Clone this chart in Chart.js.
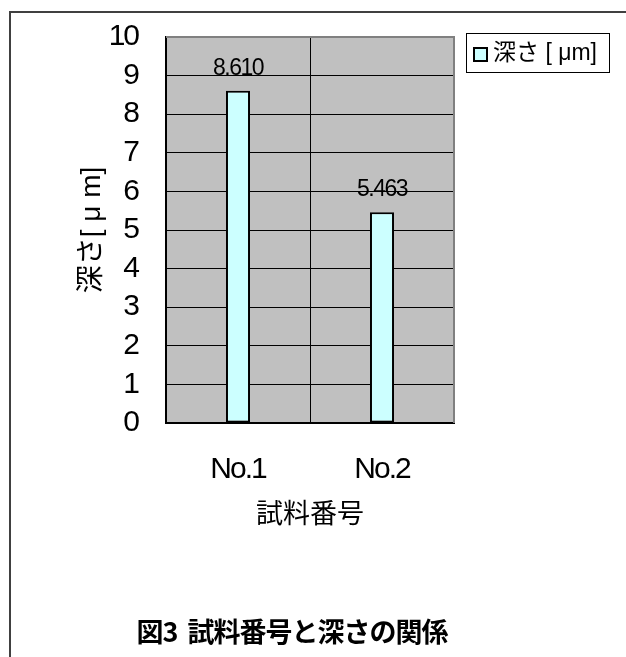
<!DOCTYPE html>
<html>
<head>
<meta charset="utf-8">
<script src="https://cdn.jsdelivr.net/npm/chart.js@4"></script>
<style>
  body { margin: 0; background: #fff; }
  #wrap { width: 626px; height: 657px; }
</style>
</head>
<body>
<div id="wrap"><canvas id="chart" width="626" height="657"></canvas></div>
<script>
const categories = ['No.1', 'No.2'];
const depthValues = [8.610, 5.463];
const seriesLabel = '深さ [ μm]';
const yTicks = [0, 1, 2, 3, 4, 5, 6, 7, 8, 9, 10];
const xTitle = '試料番号';
const yTitle = '深さ[ μ m]';
const chartTitle = '図3  試料番号と深さの関係';

const LATIN = '"Liberation Sans", "Noto Sans CJK JP", sans-serif';
const CJK = '"Noto Sans CJK JP", "Liberation Sans", sans-serif';

// frame, plot background, value labels, legend box and caption
const excelLook = {
  id: 'excelLook',
  beforeDraw(chart) {
    const { ctx, chartArea } = chart;
    ctx.letterSpacing = '0px';
    ctx.save();
    ctx.fillStyle = '#c0c0c0';
    ctx.fillRect(chartArea.left, chartArea.top, chartArea.right - chartArea.left, chartArea.bottom - chartArea.top);
    ctx.strokeStyle = '#404040';
    ctx.lineWidth = 2;
    ctx.beginPath();
    ctx.moveTo(10, 657);
    ctx.lineTo(10, 12);
    ctx.lineTo(626, 12);
    ctx.stroke();
    ctx.restore();
  },
  beforeDatasetsDraw(chart) {
    // narrow numerals like the original
    chart.ctx.letterSpacing = '-2px';
  },
  afterDatasetsDraw(chart) {
    const { ctx } = chart;
    const meta = chart.getDatasetMeta(0);
    ctx.save();
    ctx.letterSpacing = '-1.5px';
    ctx.font = '23px ' + LATIN;
    ctx.fillStyle = '#000';
    ctx.textAlign = 'center';
    ctx.textBaseline = 'alphabetic';
    meta.data.forEach((bar, i) => {
      ctx.fillText(chart.data.datasets[0].data[i].toFixed(3), bar.x, bar.y - 16);
    });
    ctx.restore();
  },
  afterDraw(chart) {
    const { ctx, chartArea } = chart;
    const ds = chart.data.datasets[0];
    ctx.letterSpacing = '0px';
    ctx.save();

    // plot area top/right edges
    ctx.strokeStyle = '#808080';
    ctx.lineWidth = 2;
    ctx.beginPath();
    ctx.moveTo(chartArea.left, chartArea.top);
    ctx.lineTo(chartArea.right, chartArea.top);
    ctx.lineTo(chartArea.right, chartArea.bottom);
    ctx.stroke();

    // legend
    ctx.fillStyle = '#fff';
    ctx.fillRect(466, 33, 144, 40);
    ctx.strokeStyle = '#000';
    ctx.lineWidth = 1;
    ctx.strokeRect(466.5, 33.5, 143, 39);
    ctx.fillStyle = ds.backgroundColor;
    ctx.fillRect(474, 48, 13, 13);
    ctx.lineWidth = 2;
    ctx.strokeRect(474, 48, 13, 13);
    ctx.fillStyle = '#000';
    ctx.font = '23px ' + LATIN;
    ctx.textAlign = 'left';
    ctx.textBaseline = 'middle';
    ctx.fillText(ds.label, 493, 54);

    // caption
    ctx.font = 'bold 27px ' + CJK;
    ctx.textAlign = 'center';
    ctx.letterSpacing = '-1px';
    ctx.fillText(chartTitle, 292, 632);
    ctx.restore();
    ctx.letterSpacing = '0px';
  }
};

new Chart(document.getElementById('chart'), {
  type: 'bar',
  data: {
    labels: categories,
    datasets: [{
      label: seriesLabel,
      data: depthValues,
      backgroundColor: '#ccffff',
      borderColor: '#000',
      borderWidth: 2,
      borderSkipped: false,
      barPercentage: 0.167,
      categoryPercentage: 1.0
    }]
  },
  options: {
    responsive: false,
    animation: false,
    devicePixelRatio: 1,
    layout: { padding: { left: 10, top: 37, right: 172, bottom: 124 } },
    plugins: {
      legend: { display: false },
      tooltip: { enabled: false }
    },
    scales: {
      x: {
        afterFit: (scale) => {
          scale.height = 110;
          scale.paddingLeft = 0;
          scale.paddingRight = 0;
        },
        grid: {
          color: (c) => (c.index === 2 ? '#808080' : '#000'),
          lineWidth: 1,
          drawTicks: false
        },
        border: { color: '#000', width: 2 },
        ticks: { z: 1, color: '#000', padding: 29, font: { family: LATIN, size: 30, lineHeight: 1.2 } },
        title: {
          display: true,
          text: xTitle,
          color: '#000',
          font: { family: CJK, size: 27, lineHeight: 1.2 },
          padding: { top: 0, bottom: 4 }
        }
      },
      y: {
        min: 0,
        max: 10,
        afterFit: (scale) => {
          scale.width = 156;
          scale.paddingTop = 0;
          scale.paddingBottom = 0;
        },
        afterBuildTicks: (scale) => { scale.ticks = yTicks.map(v => ({ value: v })); },
        grid: {
          color: (c) => (c.tick && c.tick.value === 10 ? '#808080' : '#000'),
          lineWidth: 1,
          drawTicks: false
        },
        border: { color: '#000', width: 1.5 },
        ticks: {
          z: 1,
          autoSkip: false,
          color: '#000',
          padding: 28,
          font: { family: LATIN, size: 30, lineHeight: 1.2 }
        },
        title: {
          display: true,
          text: yTitle,
          color: '#000',
          font: { family: LATIN, size: 28, lineHeight: 1.2 },
          padding: { top: 65, bottom: 0 }
        }
      }
    }
  },
  plugins: [excelLook]
});
</script>
</body>
</html>
